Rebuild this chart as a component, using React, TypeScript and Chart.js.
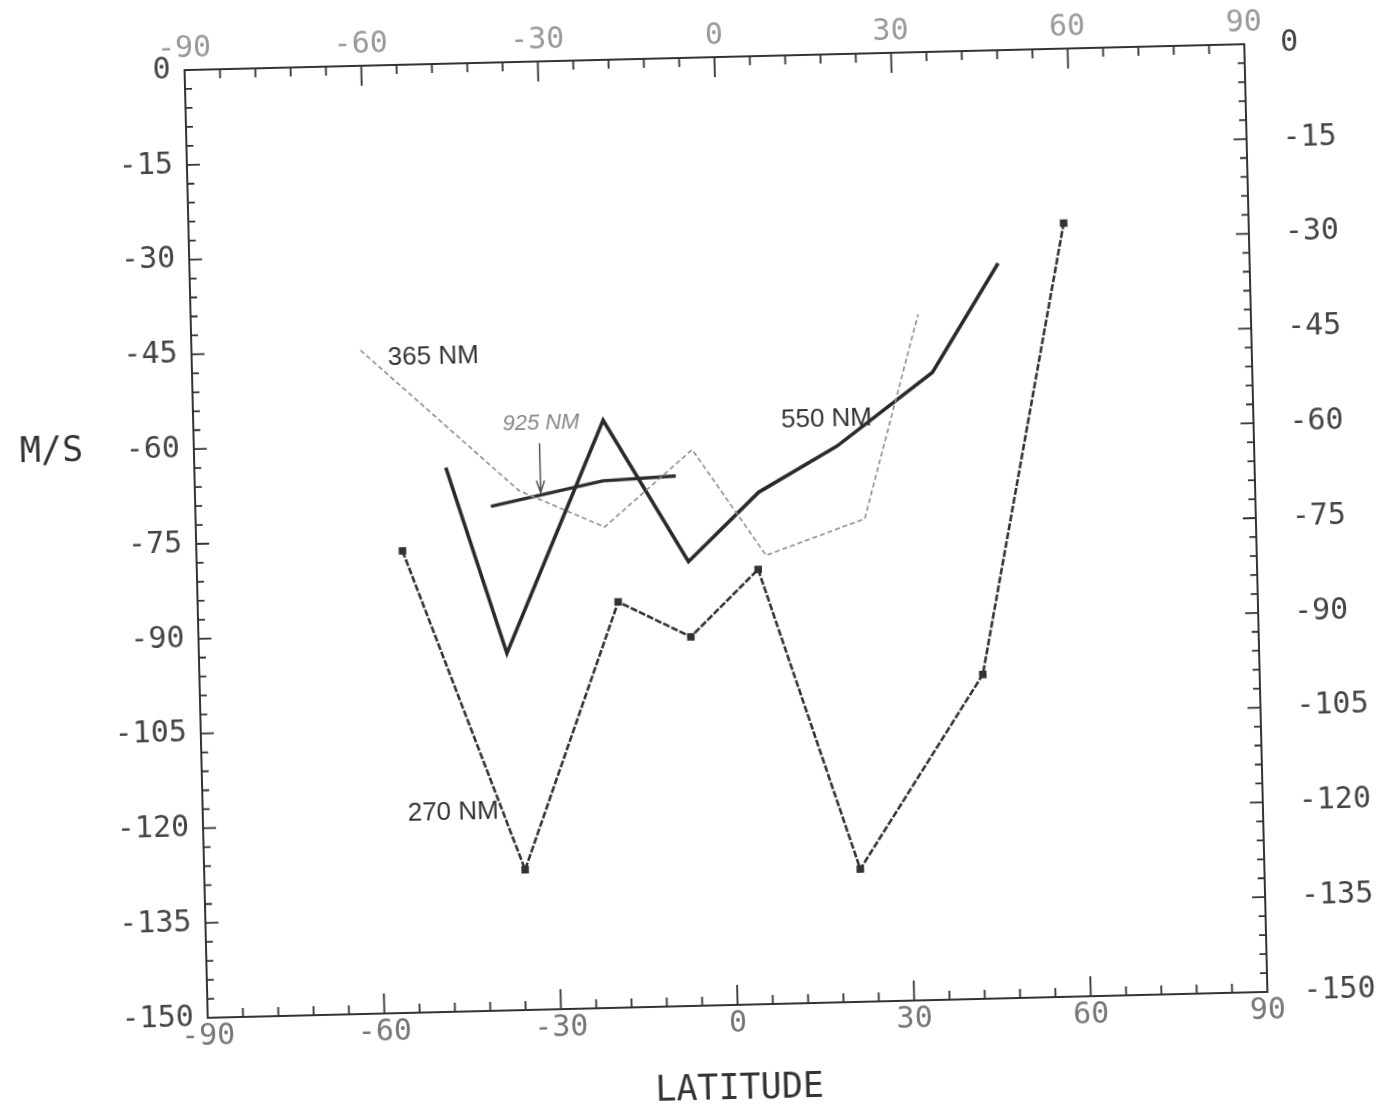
import React, { useEffect, useRef } from 'react';
import { Chart, registerables } from 'chart.js';

Chart.register(...registerables);

// ---- data (latitude, m/s) ----
const LAT_270 = [-55.0, -35.5, -18.6, -6.4, 5.3, 21.4, 43.0, 58.6];
const MS_270 = [-76.9, -127.8, -85.8, -91.6, -81.2, -129.0, -98.7, -27.6];

const LAT_550 = [-47.3, -37.7, -20.4, -6.5, 5.7, 19.2, 35.7, 47.3];
const MS_550 = [-63.9, -93.5, -57.0, -79.7, -69.0, -62.0, -50.7, -33.7];

const LAT_365 = [-61.3, -35.0, -20.6, -5.4, 6.7, 23.6, 33.5];
const MS_365 = [-45.0, -67.8, -73.9, -62.0, -79.0, -73.6, -41.5];

const LAT_925 = [-39.8, -20.7, -8.3];
const MS_925 = [-70.2, -66.6, -66.1];

// axis ranges / ticks
const X_MIN = -90;
const X_MAX = 90;
const X_STEP = 30;
const Y_MIN = -150;
const Y_MAX = 0;
const Y_STEP = 15;

// annotations (text, lat, m/s)
const LABEL_TEXTS = ['365 NM', '925 NM', '550 NM', '270 NM'];
const LABEL_LAT = [-56.7, -37.5, 9.8, -55.2];
const LABEL_MS = [-46.3, -57.3, -57.7, -118.5];
const ARROW_LAT = -31.3;
const ARROW_FROM = -60.4;
const ARROW_TO = -68.2;

const toPts = (xs: number[], ys: number[]) => xs.map((x, i) => ({ x, y: ys[i] }));

const MONO = '"DejaVu Sans Mono", "Liberation Mono", monospace';
const SANS = '"Liberation Sans", Arial, sans-serif';

const framePlugin = {
  id: 'frameTicks',
  afterDraw(chart: any) {
    const { ctx, chartArea: a, scales } = chart;
    const xs = scales.x;
    const ys = scales.y;
    ctx.save();
    ctx.strokeStyle = '#333';
    ctx.lineWidth = 2;
    ctx.strokeRect(a.left, a.top, a.right - a.left, a.bottom - a.top);

    ctx.lineWidth = 1.8;
    ctx.beginPath();
    for (let v = X_MIN; v <= X_MAX; v += 6) {
      const px = xs.getPixelForValue(v);
      const major = v % 30 === 0;
      const len = major ? 20 : 9;
      ctx.moveTo(px, a.bottom);
      ctx.lineTo(px, a.bottom - len);
      ctx.moveTo(px, a.top);
      ctx.lineTo(px, a.top + len);
    }
    for (let v = Y_MIN; v <= Y_MAX; v += 3) {
      const py = ys.getPixelForValue(v);
      const major = v % 15 === 0;
      const len = major ? 13 : 7;
      ctx.moveTo(a.left, py);
      ctx.lineTo(a.left + len, py);
      ctx.moveTo(a.right, py);
      ctx.lineTo(a.right - len, py);
    }
    ctx.stroke();

    // curve labels
    ctx.textBaseline = 'middle';
    ctx.textAlign = 'left';
    LABEL_TEXTS.forEach((t, i) => {
      const px = xs.getPixelForValue(LABEL_LAT[i]);
      const py = ys.getPixelForValue(LABEL_MS[i]);
      if (t === '925 NM') {
        ctx.font = 'italic 22px ' + SANS;
        ctx.fillStyle = '#888';
      } else {
        ctx.font = '26px ' + SANS;
        ctx.fillStyle = '#333';
      }
      ctx.fillText(t, px, py);
    });

    // arrow to 925 NM curve
    const ax = xs.getPixelForValue(ARROW_LAT);
    const ay1 = ys.getPixelForValue(ARROW_FROM);
    const ay2 = ys.getPixelForValue(ARROW_TO);
    ctx.strokeStyle = '#555';
    ctx.lineWidth = 1.5;
    ctx.beginPath();
    ctx.moveTo(ax, ay1);
    ctx.lineTo(ax, ay2);
    ctx.moveTo(ax - 4, ay2 - 12);
    ctx.lineTo(ax, ay2);
    ctx.lineTo(ax + 4, ay2 - 12);
    ctx.stroke();

    // axis titles
    ctx.fillStyle = '#333';
    ctx.font = '35px ' + MONO;
    ctx.textAlign = 'left';
    ctx.fillText('M/S', 22, ys.getPixelForValue(-60));
    ctx.textAlign = 'center';
    ctx.fillText('LATITUDE', (a.left + a.right) / 2, 1090);
    ctx.restore();
  },
};

export default function App() {
  const ref = useRef<HTMLCanvasElement | null>(null);

  useEffect(() => {
    if (!ref.current) return;
    const tickFont = { family: MONO, size: 30 };
    const chart = new Chart(ref.current, {
      type: 'scatter',
      data: {
        datasets: [
          {
            label: '365 NM',
            data: toPts(LAT_365, MS_365),
            showLine: true,
            borderColor: '#8c8c8c',
            borderWidth: 1.6,
            borderDash: [5, 3],
            pointRadius: 0,
            xAxisID: 'x',
            yAxisID: 'y',
          },
          {
            label: '270 NM',
            data: toPts(LAT_270, MS_270),
            showLine: true,
            borderColor: '#333',
            borderWidth: 2.6,
            borderDash: [7, 2],
            pointStyle: 'rect',
            pointRadius: 3.5,
            pointBackgroundColor: '#333',
            pointBorderColor: '#333',
            xAxisID: 'x',
            yAxisID: 'y',
          },
          {
            label: '550 NM',
            data: toPts(LAT_550, MS_550),
            showLine: true,
            borderColor: '#2a2a2a',
            borderWidth: 3.6,
            pointRadius: 0,
            xAxisID: 'x',
            yAxisID: 'y',
          },
          {
            label: '925 NM',
            data: toPts(LAT_925, MS_925),
            showLine: true,
            borderColor: '#2f2f2f',
            borderWidth: 3.4,
            pointRadius: 0,
            xAxisID: 'x',
            yAxisID: 'y',
          },
        ],
      },
      options: {
        animation: false,
        responsive: true,
        maintainAspectRatio: false,
        layout: { padding: 0 },
        plugins: { legend: { display: false }, tooltip: { enabled: false } },
        scales: {
          x: {
            type: 'linear',
            position: 'bottom',
            min: X_MIN,
            max: X_MAX,
            ticks: { stepSize: X_STEP, autoSkip: false, maxRotation: 0, padding: 1, color: '#777', font: tickFont },
            grid: { display: false, drawTicks: false },
            border: { display: false },
            afterFit: (s: any) => { s.height = 113; },
          },
          x2: {
            type: 'linear',
            position: 'top',
            min: X_MIN,
            max: X_MAX,
            ticks: { stepSize: X_STEP, autoSkip: false, maxRotation: 0, padding: 3, color: '#999', font: tickFont },
            grid: { display: false, drawTicks: false },
            border: { display: false },
            afterFit: (s: any) => { s.height = 57; },
          },
          y: {
            type: 'linear',
            position: 'left',
            min: Y_MIN,
            max: Y_MAX,
            ticks: { stepSize: Y_STEP, autoSkip: false, padding: 14, color: '#444', font: tickFont },
            grid: { display: false, drawTicks: false },
            border: { display: false },
            afterFit: (s: any) => { s.width = 196; },
          },
          y2: {
            type: 'linear',
            position: 'right',
            min: Y_MIN,
            max: Y_MAX,
            ticks: { stepSize: Y_STEP, autoSkip: false, padding: 36, color: '#444', font: tickFont },
            grid: { display: false, drawTicks: false },
            border: { display: false },
            afterFit: (s: any) => { s.width = 122; },
          },
        },
      },
      plugins: [framePlugin],
    });
    return () => chart.destroy();
  }, []);

  return (
    <div
      style={{
        position: 'fixed',
        left: 0,
        top: 0,
        width: 1378,
        height: 1118,
        background: '#fff',
        transform: 'rotate(-1.4deg)',
        transformOrigin: '726px 531px',
      }}
    >
      <canvas ref={ref} />
    </div>
  );
}
